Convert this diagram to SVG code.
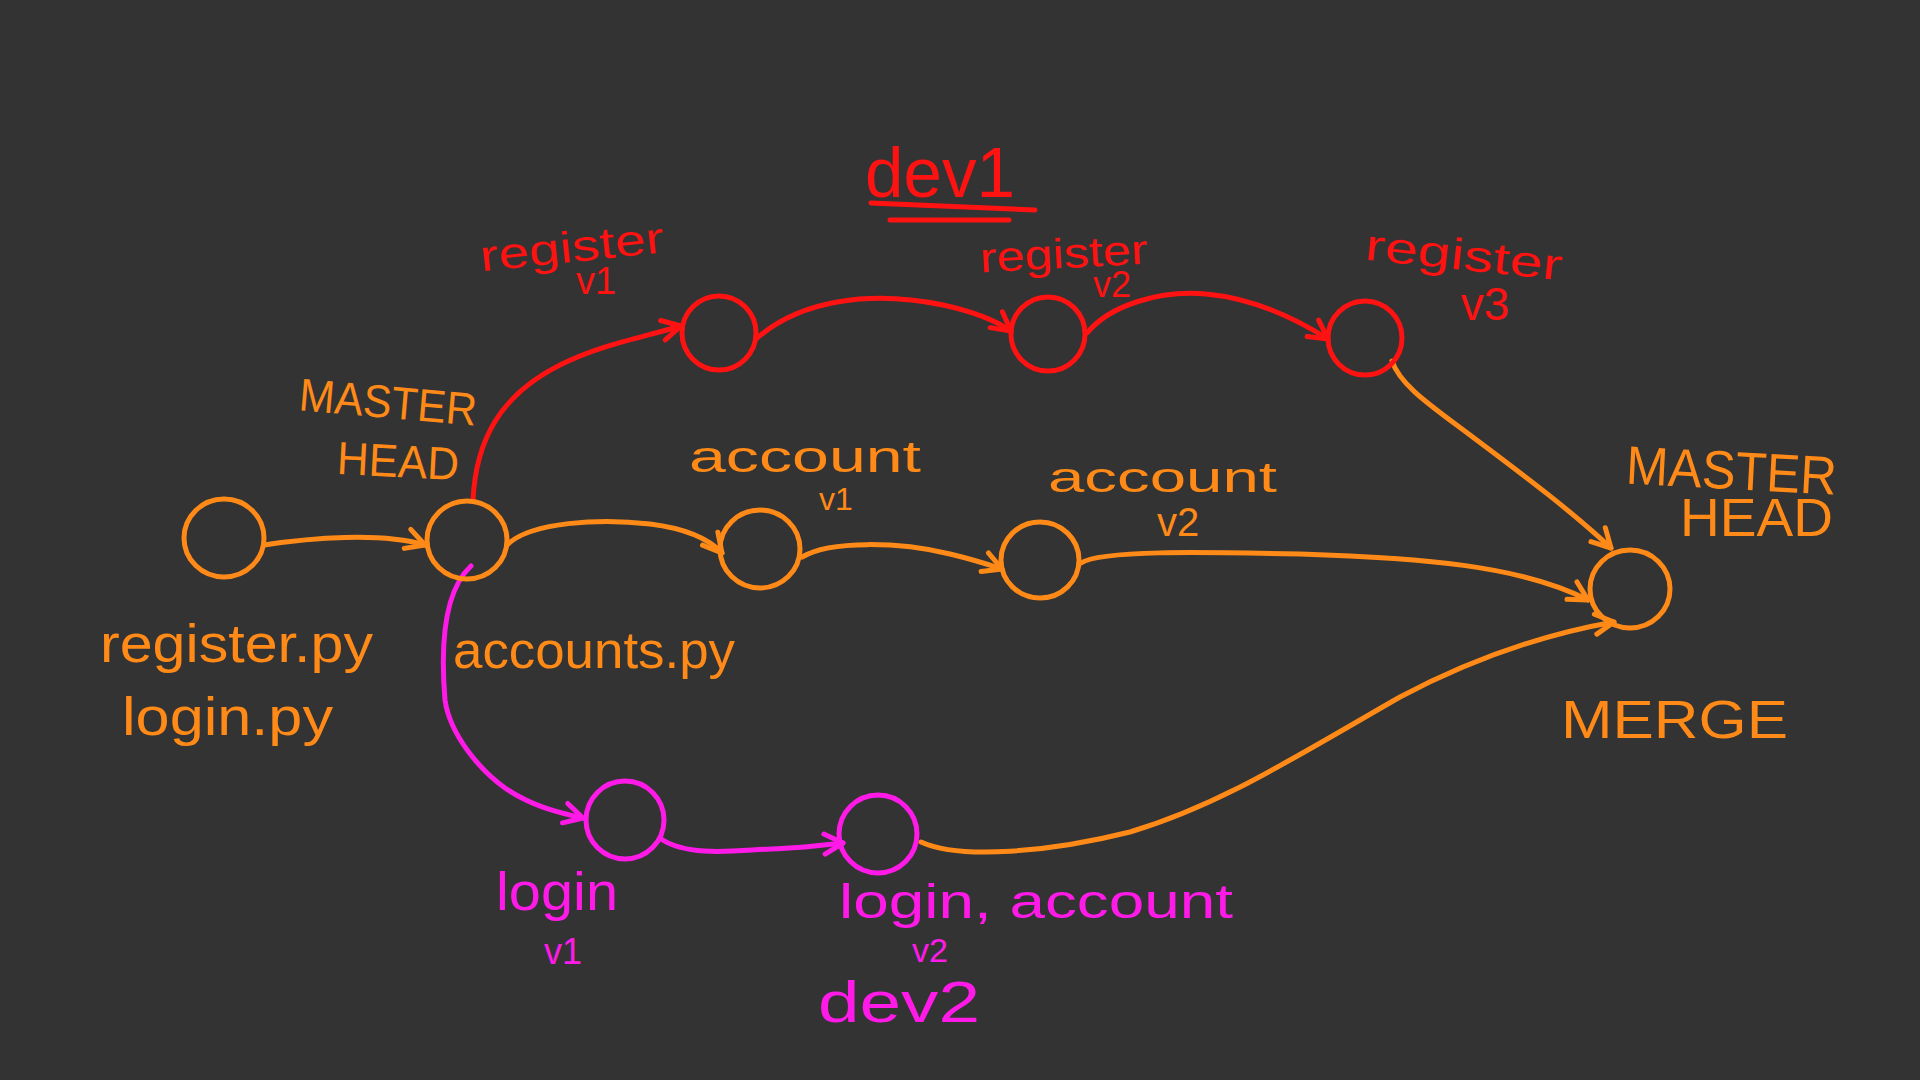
<svg xmlns="http://www.w3.org/2000/svg" width="1920" height="1080" viewBox="0 0 1920 1080">
<style>
.bg{fill:#333333}
.n{fill:none;stroke-width:5}
.red{stroke:#ff1212}
.org{stroke:#ff8a18}
.mag{stroke:#ff1ae8}
.c{fill:none;stroke-width:5;stroke-linecap:round}
.t{font-family:"Liberation Sans","DejaVu Sans",sans-serif;}
.tr{fill:#ff1212}
.to{fill:#ff8a18}
.tm{fill:#ff1ae8}
</style>
<defs>
<marker id="ar" markerUnits="userSpaceOnUse" markerWidth="30" markerHeight="30" refX="22" refY="12" orient="auto" overflow="visible"><path d="M4,1 L22,12 L3,21" fill="none" stroke="#ff1212" stroke-width="5" stroke-linecap="round" stroke-linejoin="round"/></marker>
<marker id="ao" markerUnits="userSpaceOnUse" markerWidth="30" markerHeight="30" refX="22" refY="12" orient="auto" overflow="visible"><path d="M4,1 L22,12 L3,21" fill="none" stroke="#ff8a18" stroke-width="5" stroke-linecap="round" stroke-linejoin="round"/></marker>
<marker id="am" markerUnits="userSpaceOnUse" markerWidth="30" markerHeight="30" refX="22" refY="12" orient="auto" overflow="visible"><path d="M4,1 L22,12 L3,21" fill="none" stroke="#ff1ae8" stroke-width="5" stroke-linecap="round" stroke-linejoin="round"/></marker>
</defs>
<rect class="bg" x="0" y="0" width="1920" height="1080"/>

<g id="connectors">
<path class="c org" d="M264,545 C310,538 380,532 425,545" marker-end="url(#ao)"/>
<path class="c red" d="M473,500 C476,440 500,395 560,365 C600,345 640,338 681,326" marker-end="url(#ar)"/>
<path class="c red" d="M756,339 C800,300 870,290 943,305 C975,312 995,320 1011,331" marker-end="url(#ar)"/>
<path class="c red" d="M1087,333 C1110,305 1160,290 1206,294 C1250,298 1290,315 1328,339" marker-end="url(#ar)"/>
<path class="c org" d="M1392,361 C1400,385 1430,405 1470,435 C1530,480 1570,510 1611,548" marker-end="url(#ao)"/>
<path class="c org" d="M507,545 C530,522 600,518 650,524 C690,529 710,540 722,553" marker-end="url(#ao)"/>
<path class="c org" d="M802,557 C830,540 900,542 950,554 C975,560 990,565 1002,569" marker-end="url(#ao)"/>
<path class="c org" d="M1081,563 C1100,550 1200,552 1300,554 C1420,558 1520,565 1588,600" marker-end="url(#ao)"/>
<path class="c mag" d="M471,566 C445,590 440,640 445,700 C450,735 480,770 505,788 C530,805 555,812 583,818" marker-end="url(#am)"/>
<path class="c mag" d="M661,839 C690,858 740,850 771,849 C800,848 825,845 843,843" marker-end="url(#am)"/>
<path class="c org" d="M921,842 C960,860 1050,852 1130,832 C1220,805 1290,760 1400,697 C1470,660 1540,635 1614,622" marker-end="url(#ao)"/>
</g>

<g id="n-start"><ellipse class="n org" cx="224" cy="538" rx="40" ry="39"/></g>
<g id="n-master-head"><ellipse class="n org" cx="467" cy="540" rx="40" ry="39"/></g>
<g id="n-register-v1"><ellipse class="n red" cx="719" cy="333" rx="37" ry="37"/></g>
<g id="n-register-v2"><ellipse class="n red" cx="1048" cy="334" rx="37" ry="37"/></g>
<g id="n-register-v3"><ellipse class="n red" cx="1365" cy="338" rx="37" ry="37"/></g>
<g id="n-account-v1"><ellipse class="n org" cx="760" cy="549" rx="40" ry="39"/></g>
<g id="n-account-v2"><ellipse class="n org" cx="1040" cy="560" rx="39" ry="38"/></g>
<g id="n-merge"><ellipse class="n org" cx="1630" cy="589" rx="40" ry="39"/></g>
<g id="n-login-v1"><ellipse class="n mag" cx="625" cy="820" rx="39" ry="39"/></g>
<g id="n-login-v2"><ellipse class="n mag" cx="878" cy="834" rx="39" ry="39"/></g>

<g id="labels">
<text class="t tr" x="865" y="197" font-size="70" textLength="150" lengthAdjust="spacingAndGlyphs">dev1</text>
<path d="M871,203 L1035,210 M890,220 L1009,220" fill="none" stroke="#ff1212" stroke-width="5" stroke-linecap="round"/>

<text class="t tr" x="480" y="262" font-size="44" textLength="185" lengthAdjust="spacingAndGlyphs" transform="rotate(-6 572 250)">register</text>
<text class="t tr" x="596" y="294" font-size="38" text-anchor="middle">v1</text>
<text class="t tr" x="980" y="268" font-size="42" textLength="168" lengthAdjust="spacingAndGlyphs" transform="rotate(-3 1064 260)">register</text>
<text class="t tr" x="1112" y="297" font-size="36" text-anchor="middle">v2</text>
<text class="t tr" x="1365" y="270" font-size="44" textLength="198" lengthAdjust="spacingAndGlyphs" transform="rotate(6 1464 258)">register</text>
<text class="t tr" x="1485" y="320" font-size="46" text-anchor="middle">v3</text>

<text class="t to" x="299" y="418" font-size="46" textLength="178" lengthAdjust="spacingAndGlyphs" transform="rotate(5 388 404)">MASTER</text>
<text class="t to" x="337" y="477" font-size="46" textLength="122" lengthAdjust="spacingAndGlyphs" transform="rotate(3 398 462)">HEAD</text>
<text class="t to" x="689" y="472" font-size="44" textLength="232" lengthAdjust="spacingAndGlyphs">account</text>
<text class="t to" x="836" y="510" font-size="32" text-anchor="middle">v1</text>
<text class="t to" x="1048" y="492" font-size="42" textLength="229" lengthAdjust="spacingAndGlyphs">account</text>
<text class="t to" x="1178" y="536" font-size="40" text-anchor="middle">v2</text>
<text class="t to" x="1626" y="489" font-size="54" textLength="211" lengthAdjust="spacingAndGlyphs" transform="rotate(3 1730 470)">MASTER</text>
<text class="t to" x="1680" y="536" font-size="54" textLength="153" lengthAdjust="spacingAndGlyphs">HEAD</text>
<text class="t to" x="100" y="662" font-size="54" textLength="273" lengthAdjust="spacingAndGlyphs">register.py</text>
<text class="t to" x="122" y="735" font-size="54" textLength="211" lengthAdjust="spacingAndGlyphs">login.py</text>
<text class="t to" x="453" y="668" font-size="52" textLength="282" lengthAdjust="spacingAndGlyphs">accounts.py</text>
<text class="t to" x="1561" y="738" font-size="54" textLength="227" lengthAdjust="spacingAndGlyphs">MERGE</text>

<text class="t tm" x="496" y="910" font-size="54" textLength="122" lengthAdjust="spacingAndGlyphs">login</text>
<text class="t tm" x="563" y="964" font-size="36" text-anchor="middle">v1</text>
<text class="t tm" x="839" y="918" font-size="48" textLength="394" lengthAdjust="spacingAndGlyphs">login, account</text>
<text class="t tm" x="930" y="962" font-size="34" text-anchor="middle">v2</text>
<text class="t tm" x="818" y="1022" font-size="58" textLength="162" lengthAdjust="spacingAndGlyphs">dev2</text>
</g>
</svg>
